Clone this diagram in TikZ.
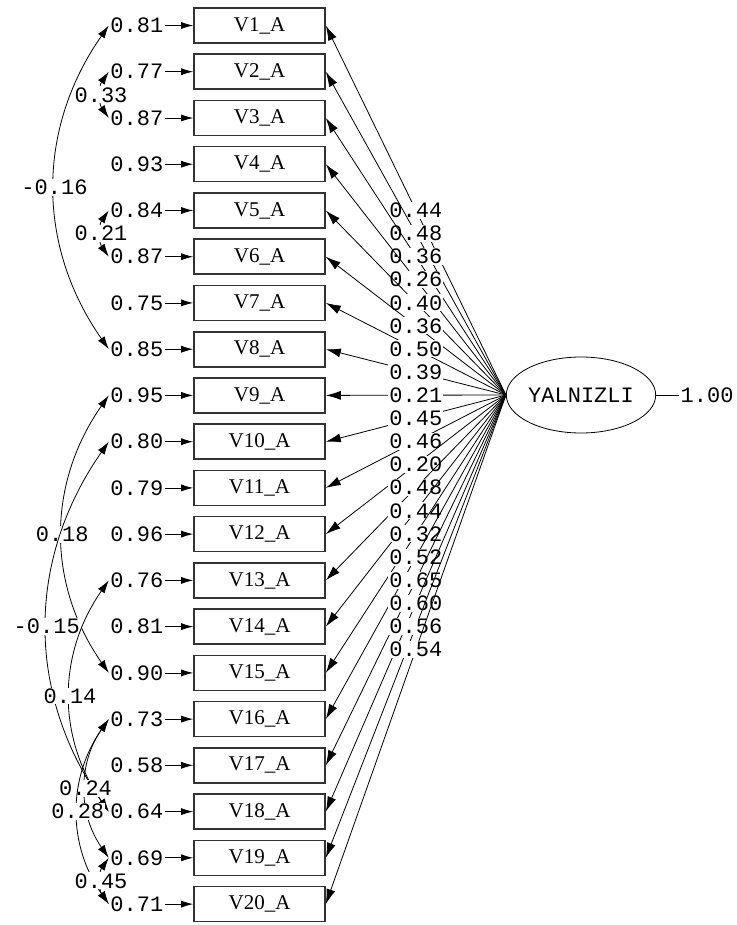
\documentclass[tikz,border=0pt]{standalone}
\usepackage{fontspec}
\setmonofont{Liberation Mono}
\newfontfamily\boxfont{Liberation Serif}
\usetikzlibrary{arrows.meta,shapes.geometric}

\newcommand*{\boxx}{259.5}
\newcommand*{\errx}{165}

\begin{document}
\begin{tikzpicture}
[
	num/.style={font=\ttfamily\fontsize{22}{22}\selectfont,inner sep=1.5pt},
	errlbl/.style={num,anchor=east},
	pathlbl/.style={num,fill=white,inner sep=1pt},
	obsbox/.style={draw=black!80,line width=1.6pt,minimum width=131pt,minimum height=35pt,inner sep=0pt,font=\boxfont\fontsize{21}{21}\selectfont},
	latent/.style={ellipse,draw,line width=0.8pt,minimum width=132pt,minimum height=76pt,inner sep=0pt,font=\ttfamily\fontsize{22}{22}\selectfont},
	errarrow/.style={line width=0.8pt,-{Latex[length=12pt,width=7pt]}},
	loadarrow/.style={line width=0.8pt,-{Latex[length=15pt,width=9pt]}},
	covarc/.style={line width=0.8pt,{Latex[length=13pt,width=8pt]}-{Latex[length=13pt,width=8pt]}},
	x=1pt,y=-1pt
]
	\useasboundingbox (0,0) rectangle (736,925);

	% observed variables
	\node[obsbox] (v1) at (\boxx,25.5) {V1\_A};
	\node[obsbox] (v2) at (\boxx,71.7) {V2\_A};
	\node[obsbox] (v3) at (\boxx,118.0) {V3\_A};
	\node[obsbox] (v4) at (\boxx,164.2) {V4\_A};
	\node[obsbox] (v5) at (\boxx,210.5) {V5\_A};
	\node[obsbox] (v6) at (\boxx,256.7) {V6\_A};
	\node[obsbox] (v7) at (\boxx,302.9) {V7\_A};
	\node[obsbox] (v8) at (\boxx,349.2) {V8\_A};
	\node[obsbox] (v9) at (\boxx,395.4) {V9\_A};
	\node[obsbox] (v10) at (\boxx,441.7) {V10\_A};
	\node[obsbox] (v11) at (\boxx,487.9) {V11\_A};
	\node[obsbox] (v12) at (\boxx,534.1) {V12\_A};
	\node[obsbox] (v13) at (\boxx,580.4) {V13\_A};
	\node[obsbox] (v14) at (\boxx,626.6) {V14\_A};
	\node[obsbox] (v15) at (\boxx,672.9) {V15\_A};
	\node[obsbox] (v16) at (\boxx,719.1) {V16\_A};
	\node[obsbox] (v17) at (\boxx,765.3) {V17\_A};
	\node[obsbox] (v18) at (\boxx,811.6) {V18\_A};
	\node[obsbox] (v19) at (\boxx,857.8) {V19\_A};
	\node[obsbox] (v20) at (\boxx,904.1) {V20\_A};

	% error variances
	\node[errlbl] (e1) at (\errx,25.5) {0.81};
	\node[errlbl] (e2) at (\errx,71.7) {0.77};
	\node[errlbl] (e3) at (\errx,118.0) {0.87};
	\node[errlbl] (e4) at (\errx,164.2) {0.93};
	\node[errlbl] (e5) at (\errx,210.5) {0.84};
	\node[errlbl] (e6) at (\errx,256.7) {0.87};
	\node[errlbl] (e7) at (\errx,302.9) {0.75};
	\node[errlbl] (e8) at (\errx,349.2) {0.85};
	\node[errlbl] (e9) at (\errx,395.4) {0.95};
	\node[errlbl] (e10) at (\errx,441.7) {0.80};
	\node[errlbl] (e11) at (\errx,487.9) {0.79};
	\node[errlbl] (e12) at (\errx,534.1) {0.96};
	\node[errlbl] (e13) at (\errx,580.4) {0.76};
	\node[errlbl] (e14) at (\errx,626.6) {0.81};
	\node[errlbl] (e15) at (\errx,672.9) {0.90};
	\node[errlbl] (e16) at (\errx,719.1) {0.73};
	\node[errlbl] (e17) at (\errx,765.3) {0.58};
	\node[errlbl] (e18) at (\errx,811.6) {0.64};
	\node[errlbl] (e19) at (\errx,857.8) {0.69};
	\node[errlbl] (e20) at (\errx,904.1) {0.71};

	\draw[errarrow] (e1) -- (v1);
	\draw[errarrow] (e2) -- (v2);
	\draw[errarrow] (e3) -- (v3);
	\draw[errarrow] (e4) -- (v4);
	\draw[errarrow] (e5) -- (v5);
	\draw[errarrow] (e6) -- (v6);
	\draw[errarrow] (e7) -- (v7);
	\draw[errarrow] (e8) -- (v8);
	\draw[errarrow] (e9) -- (v9);
	\draw[errarrow] (e10) -- (v10);
	\draw[errarrow] (e11) -- (v11);
	\draw[errarrow] (e12) -- (v12);
	\draw[errarrow] (e13) -- (v13);
	\draw[errarrow] (e14) -- (v14);
	\draw[errarrow] (e15) -- (v15);
	\draw[errarrow] (e16) -- (v16);
	\draw[errarrow] (e17) -- (v17);
	\draw[errarrow] (e18) -- (v18);
	\draw[errarrow] (e19) -- (v19);
	\draw[errarrow] (e20) -- (v20);

	% latent variable
	\node[latent] (yal) at (581,395) {YALNIZLI};
	\node[num,anchor=west] (yalvar) at (679,395) {1.00};
	\draw[line width=0.8pt] (yal) -- (yalvar);

	% loadings
	\draw[loadarrow] (yal.west) -- node[pathlbl] {0.44} (v1.east);
	\draw[loadarrow] (yal.west) -- node[pathlbl] {0.48} (v2.east);
	\draw[loadarrow] (yal.west) -- node[pathlbl] {0.36} (v3.east);
	\draw[loadarrow] (yal.west) -- node[pathlbl] {0.26} (v4.east);
	\draw[loadarrow] (yal.west) -- node[pathlbl] {0.40} (v5.east);
	\draw[loadarrow] (yal.west) -- node[pathlbl] {0.36} (v6.east);
	\draw[loadarrow] (yal.west) -- node[pathlbl] {0.50} (v7.east);
	\draw[loadarrow] (yal.west) -- node[pathlbl] {0.39} (v8.east);
	\draw[loadarrow] (yal.west) -- node[pathlbl] {0.21} (v9.east);
	\draw[loadarrow] (yal.west) -- node[pathlbl] {0.45} (v10.east);
	\draw[loadarrow] (yal.west) -- node[pathlbl] {0.46} (v11.east);
	\draw[loadarrow] (yal.west) -- node[pathlbl] {0.20} (v12.east);
	\draw[loadarrow] (yal.west) -- node[pathlbl] {0.48} (v13.east);
	\draw[loadarrow] (yal.west) -- node[pathlbl] {0.44} (v14.east);
	\draw[loadarrow] (yal.west) -- node[pathlbl] {0.32} (v15.east);
	\draw[loadarrow] (yal.west) -- node[pathlbl] {0.52} (v16.east);
	\draw[loadarrow] (yal.west) -- node[pathlbl] {0.65} (v17.east);
	\draw[loadarrow] (yal.west) -- node[pathlbl] {0.60} (v18.east);
	\draw[loadarrow] (yal.west) -- node[pathlbl] {0.56} (v19.east);
	\draw[loadarrow] (yal.west) -- node[pathlbl] {0.54} (v20.east);

	% error covariances
	\draw[covarc] (e1.west) to[bend right=35] node[pathlbl] {-0.16} (e8.west);
	\draw[covarc] (e2.west) to[bend right=35] node[pathlbl] {0.33} (e3.west);
	\draw[covarc] (e5.west) to[bend right=35] node[pathlbl] {0.21} (e6.west);
	\draw[covarc] (e9.west) to[bend right=35] node[pathlbl] {0.18} (e15.west);
	\draw[covarc] (e10.west) to[bend right=35] node[pathlbl] {-0.15} (e18.west);
	\draw[covarc] (e13.west) to[bend right=35] node[pathlbl] {0.14} (e18.west);
	\draw[covarc] (e16.west) to[bend right=35] node[pathlbl] {0.24} (e19.west);
	\draw[covarc] (e16.west) to[bend right=35] node[pathlbl] {0.28} (e20.west);
	\draw[covarc] (e19.west) to[bend right=35] node[pathlbl] {0.45} (e20.west);

\end{tikzpicture}
\end{document}
